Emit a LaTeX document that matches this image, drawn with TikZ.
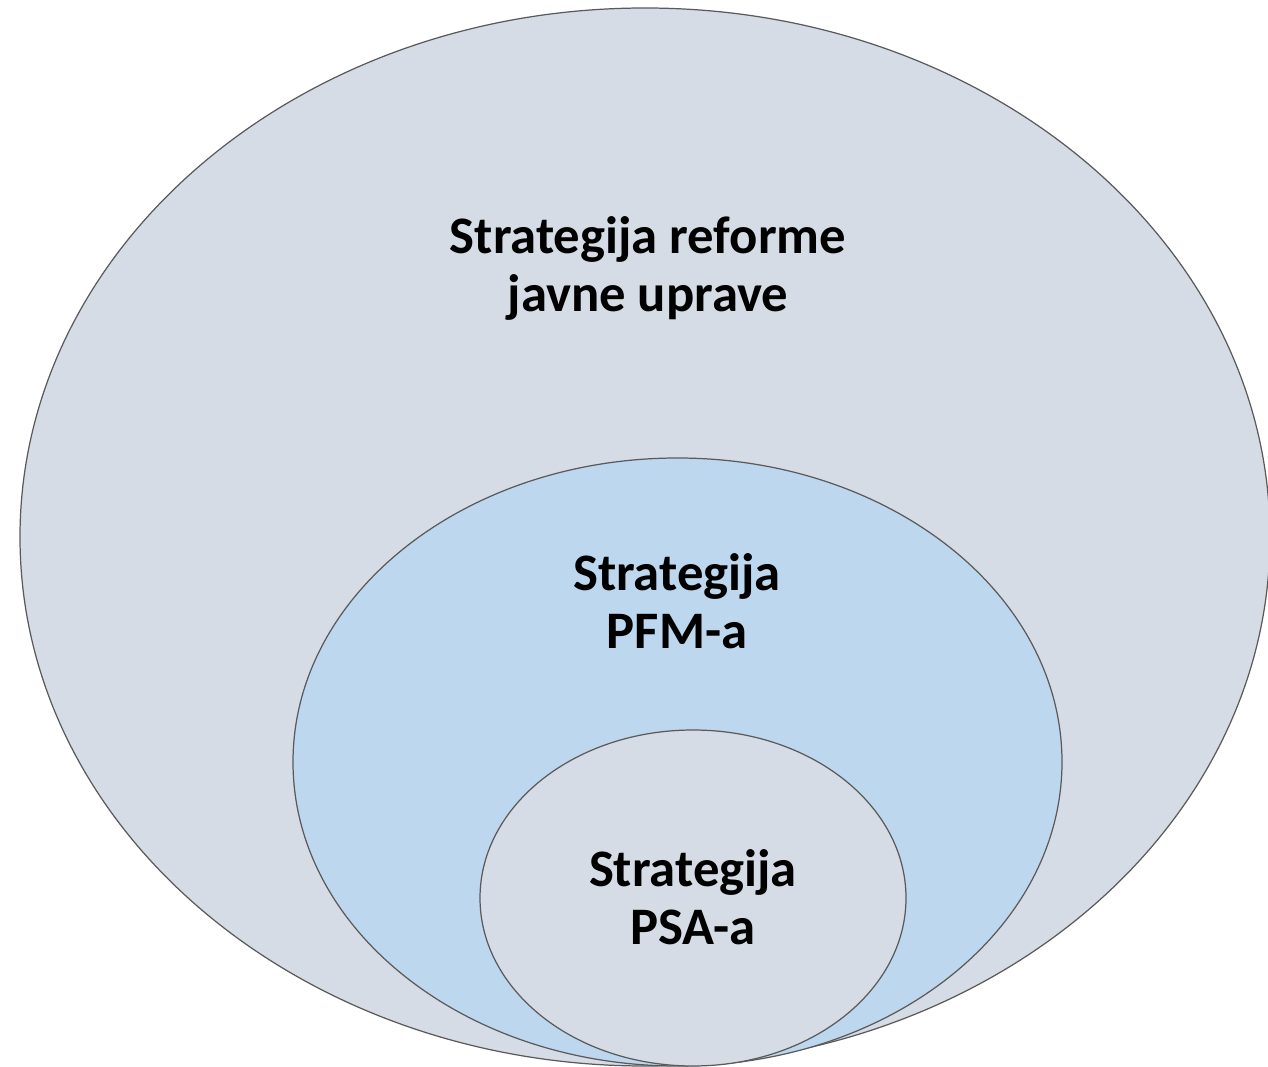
\documentclass[tikz,border=0pt]{standalone}
\usepackage{fontspec}
\setmainfont{Carlito}
\definecolor{outerfill}{HTML}{D6DCE5}
\definecolor{midfill}{HTML}{BDD7EE}
\definecolor{edgegray}{HTML}{5A5A5A}
\begin{document}
\begin{tikzpicture}[x=0.02cm, y=-0.02cm,
    ring/.style={draw=edgegray, line width=0.7pt},
    label/.style={align=center, font=\fontsize{30}{33}\selectfont\bfseries}]
    % Fix the page to the reference size
    \useasboundingbox (0,0) rectangle (1268,1067);
    
    % Draw the nested strategy ellipses
    \filldraw[ring, fill=outerfill] (645,537) ellipse (625 and 529);
    \filldraw[ring, fill=midfill] (677.5,762) ellipse (384.5 and 304);
    \filldraw[ring, fill=outerfill] (693,898) ellipse (213 and 168);
    
    % Label each ellipse
    \node[label] (reform) at (648,268) {Strategija reforme\\javne uprave};
    \node[label] (pfm) at (677,601) {Strategija\\PFM-a};
    \node[label] (psa) at (693,897) {Strategija\\PSA-a};
\end{tikzpicture}
\end{document}
